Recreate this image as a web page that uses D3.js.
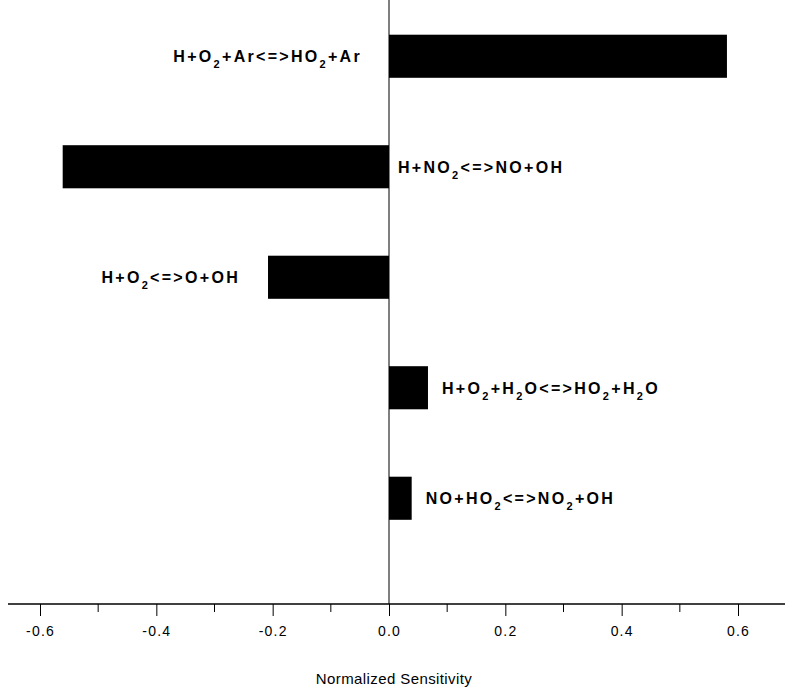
<!DOCTYPE html>
<html lang="en">
<head>
    <meta charset="UTF-8">
    <title>Normalized Sensitivity</title>
    <script src="https://cdn.jsdelivr.net/npm/d3@7"></script>
    <style>
        body { margin: 0; background: #fff; }
    </style>
</head>
<body>
<script>
    // reactions, top to bottom (each part: [text, subscript?])
    var reactions = [
        [["H+O", 0], ["2", 1], ["+Ar<=>HO", 0], ["2", 1], ["+Ar", 0]],
        [["H+NO", 0], ["2", 1], ["<=>NO+OH", 0]],
        [["H+O", 0], ["2", 1], ["<=>O+OH", 0]],
        [["H+O", 0], ["2", 1], ["+H", 0], ["2", 1], ["O<=>HO", 0], ["2", 1], ["+H", 0], ["2", 1], ["O", 0]],
        [["NO+HO", 0], ["2", 1], ["<=>NO", 0], ["2", 1], ["+OH", 0]]
    ];
    var sensitivity = [0.581, -0.561, -0.208, 0.067, 0.039];
    var tickValues = [-0.6, -0.4, -0.2, 0.0, 0.2, 0.4, 0.6];
    var minorTicks = [-0.5, -0.3, -0.1, 0.1, 0.3, 0.5];

    // where each label sits: left or right of the zero line / bar end
    var labelPlace = ["zeroLeft", "zeroRight", "barLeft", "barRight", "barRight"];

    var w = 785, h = 698;
    var axisY = 604;

    var svg = d3.select("body").append("svg")
        .attr("width", w)
        .attr("height", h);

    var x = d3.scaleLinear()
        .domain([-0.6, 0.6])
        .range([40, 738]);

    var y = d3.scaleBand()
        .domain(d3.range(reactions.length))
        .range([1, 553.5])
        .paddingInner(0.61)
        .paddingOuter(0.305);

    // bars
    svg.selectAll("rect.bar")
        .data(sensitivity)
        .enter()
        .append("rect")
        .attr("class", "bar")
        .attr("x", function (d) { return x(Math.min(0, d)); })
        .attr("y", function (d, i) { return y(i); })
        .attr("width", function (d) { return Math.abs(x(d) - x(0)); })
        .attr("height", y.bandwidth())
        .attr("fill", "#000");

    // zero line
    svg.append("line")
        .attr("x1", x(0)).attr("x2", x(0))
        .attr("y1", 0).attr("y2", axisY)
        .attr("stroke", "#000")
        .attr("stroke-width", 1);

    // x axis
    var axisG = svg.append("g").attr("transform", "translate(0," + axisY + ")");
    axisG.append("line")
        .attr("x1", 8).attr("x2", w)
        .attr("stroke", "#000")
        .attr("stroke-width", 1.6);

    axisG.call(d3.axisBottom(x)
            .tickValues(tickValues)
            .tickSize(12)
            .tickPadding(10)
            .tickFormat(function (d) { return d3.format(".1f")(d).replace("−", "-"); }))
        .call(function (g) { g.select(".domain").remove(); })
        .selectAll("text")
        .attr("font-family", "Liberation Sans, Arial, sans-serif")
        .attr("font-size", "14px")
        .attr("letter-spacing", "1.2px")
        .attr("fill", "#000");

    axisG.selectAll("line.minor")
        .data(minorTicks)
        .enter()
        .append("line")
        .attr("class", "minor")
        .attr("x1", function (d) { return x(d); })
        .attr("x2", function (d) { return x(d); })
        .attr("y1", 0).attr("y2", 8)
        .attr("stroke", "#000");

    // axis title
    svg.append("text")
        .attr("x", 394)
        .attr("y", 684)
        .attr("text-anchor", "middle")
        .attr("font-family", "Liberation Sans, Arial, sans-serif")
        .attr("font-size", "15px")
        .attr("letter-spacing", "0.4px")
        .text("Normalized Sensitivity");

    // reaction labels
    var labels = svg.selectAll("text.rxn")
        .data(reactions)
        .enter()
        .append("text")
        .attr("class", "rxn")
        .attr("font-family", "Liberation Sans, Arial, sans-serif")
        .attr("font-weight", "bold")
        .attr("font-size", "16px")
        .attr("letter-spacing", "2.3px")
        .attr("y", function (d, i) { return y(i) + y.bandwidth() / 2 + 6; })
        .attr("x", function (d, i) {
            var v = sensitivity[i];
            if (labelPlace[i] === "zeroLeft") return x(0) - 27;
            if (labelPlace[i] === "zeroRight") return x(0) + 9;
            if (labelPlace[i] === "barLeft") return x(v) - 28;
            return x(v) + 14;
        })
        .attr("text-anchor", function (d, i) {
            return labelPlace[i].indexOf("Left") >= 0 ? "end" : "start";
        });

    labels.selectAll("tspan")
        .data(function (d) { return d; })
        .enter()
        .append("tspan")
        .attr("font-size", function (p) { return p[1] ? "11px" : null; })
        .attr("dy", function (p, j, nodes) {
            // drop for subscript, come back afterwards
            var prev = j > 0 ? d3.select(nodes[j - 1]).datum()[1] : 0;
            if (p[1] && !prev) return 6;
            if (!p[1] && prev) return -6;
            return 0;
        })
        .text(function (p) { return p[0]; });
</script>
</body>
</html>
